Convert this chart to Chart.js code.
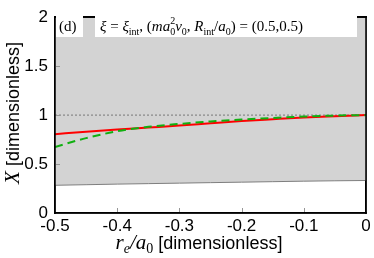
<!DOCTYPE html>
<html>
<head>
<meta charset="utf-8">
<script src="https://cdn.jsdelivr.net/npm/chart.js@4.4.0/dist/chart.umd.min.js"></script>
<style>
  html, body { margin: 0; padding: 0; background: #fff; }
  #wrap { width: 374px; height: 258px; }
</style>
</head>
<body>
<div id="wrap"><canvas id="c" width="374" height="258"></canvas></div>
<script>
// r_e / a_0 sample points
var reVals = [-0.5, -0.45, -0.4, -0.35, -0.3, -0.25, -0.2, -0.15, -0.1, -0.05, 0];
// red solid curve
var redVals = [0.805, 0.83, 0.853, 0.873, 0.893, 0.917, 0.94, 0.958, 0.975, 0.988, 1.0];
// green dashed curve
var greenVals = [0.675, 0.765, 0.835, 0.88, 0.91, 0.935, 0.955, 0.97, 0.985, 0.995, 1.0];
// lower edge of the grey band (band goes up to the top of the frame)
var bandLow = [0.283, 0.289, 0.295, 0.3, 0.305, 0.31, 0.315, 0.32, 0.325, 0.329, 0.332];
var refLine = [1, 1];
var xTicks = [-0.5, -0.4, -0.3, -0.2, -0.1, 0];
var yTicks = [0, 0.5, 1, 1.5, 2];

function pts(xs, ys) {
    return xs.map(function(x, i) { return {x: x, y: ys[i]}; });
}

var SANS = '"Liberation Sans", Arial, sans-serif';
var SERIF = '"Liberation Serif", "Times New Roman", serif';

// grid must stay "on" so the scale computes where its border goes; lines themselves are invisible
var hiddenGrid = { display: true, drawOnChartArea: false, drawTicks: false, color: 'rgba(0,0,0,0)' };
var blackBorder = { display: true, color: '#000', width: 1.5 };

// draws a list of text runs one after the other
function drawRuns(ctx, runs, x, y) {
    runs.forEach(function(r) {
        ctx.font = r.f;
        ctx.fillText(r.t, x, y + (r.dy || 0));
        x += ctx.measureText(r.t).width;
    });
    return x;
}
function runsWidth(ctx, runs) {
    var w = 0;
    runs.forEach(function(r) { ctx.font = r.f; w += ctx.measureText(r.t).width; });
    return w;
}

// frame-only axis for the top / right edges of the box
function edgeAxis(pos, min, max) {
    return {
        type: 'linear', position: pos, min: min, max: max,
        grid: hiddenGrid,
        ticks: { display: false },
        border: blackBorder,
        afterFit: function(s) { if (pos === 'top') s.height = 0; else s.width = 0; }
    };
}

var extras = {
    id: 'extras',
    afterDatasetsDraw: function(chart) {
        // box round the plot, drawn again here in case the scale borders are skipped
        var ctx = chart.ctx;
        var xs = chart.scales.x, ys = chart.scales.y;
        var L = xs.getPixelForValue(-0.5), R = xs.getPixelForValue(0);
        var T = ys.getPixelForValue(2), B = ys.getPixelForValue(0);
        ctx.save();
        ctx.setLineDash([]);
        ctx.globalAlpha = 1;
        ctx.fillStyle = '#000';
        ctx.fillRect(L - 0.75, T - 0.75, R - L + 1.5, 1.5);
        ctx.fillRect(L - 0.75, B - 0.75, R - L + 1.5, 1.5);
        ctx.fillRect(L - 0.75, T - 0.75, 1.5, B - T + 1.5);
        ctx.fillRect(R - 0.75, T - 0.75, 1.5, B - T + 1.5);
        // inward ticks
        ctx.fillStyle = 'rgb(150,150,150)';
        xTicks.forEach(function(v) {
            var p = Math.round(xs.getPixelForValue(v));
            if (p > L + 2 && p < R - 2) ctx.fillRect(p, B - 5, 1, 4);
        });
        yTicks.forEach(function(v) {
            var p = Math.round(ys.getPixelForValue(v));
            if (p > T + 2 && p < B - 2) ctx.fillRect(L + 1, p, 4, 1);
        });
        ctx.restore();
    },
    afterDraw: function(chart) {
        var ctx = chart.ctx;
        ctx.save();

        // annotation boxes
        var f = '15px ' + SERIF, fi = 'italic 15px ' + SERIF, fs = '10px ' + SERIF;
        ctx.fillStyle = '#fff';
        ctx.fillRect(56, 14, 27, 23);
        ctx.fillRect(95, 14, 262, 23);
        ctx.fillStyle = '#000';
        ctx.textBaseline = 'alphabetic';
        ctx.textAlign = 'left';
        drawRuns(ctx, [{t: '(d)', f: f}], 59, 31);
        var runs = [
            {t: 'ξ', f: fi}, {t: ' = ', f: f}, {t: 'ξ', f: fi}, {t: 'int', f: fs, dy: 4},
            {t: ', (', f: f}, {t: 'ma', f: fi}
        ];
        var x = drawRuns(ctx, runs, 100, 31);
        ctx.font = fs;
        ctx.fillText('2', x, 24);
        ctx.fillText('0', x, 35);
        x += ctx.measureText('0').width;
        drawRuns(ctx, [{t: 'ν', f: fi}, {t: '0', f: fs, dy: 4}, {t: ', ', f: f}, {t: 'R', f: fi},
            {t: 'int', f: fs, dy: 4}, {t: '/', f: f}, {t: 'a', f: fi}, {t: '0', f: fs, dy: 4},
            {t: ') = (0.5,0.5)', f: f}], x, 31);

        // x axis title
        var xr = [
            {t: 'r', f: 'italic 21px ' + SERIF}, {t: 'e', f: 'italic 14px ' + SERIF, dy: 4},
            {t: '/', f: 'italic 21px ' + SERIF}, {t: 'a', f: 'italic 21px ' + SERIF},
            {t: '0', f: '14px ' + SERIF, dy: 4}, {t: ' [dimensionless]', f: '18px ' + SANS}
        ];
        var w = runsWidth(ctx, xr);
        drawRuns(ctx, xr, 199 - w / 2, 249);

        // y axis title
        var yr = [{t: 'X', f: 'italic 21px ' + SERIF}, {t: ' [dimensionless]', f: '18px ' + SANS}];
        w = runsWidth(ctx, yr);
        ctx.translate(19, 113);
        ctx.rotate(-Math.PI / 2);
        drawRuns(ctx, yr, -w / 2, 0);
        ctx.restore();
    }
};

new Chart(document.getElementById('c'), {
    type: 'line',
    data: {
        datasets: [
            {
                data: pts(reVals, bandLow),
                order: 4,
                borderColor: '#7f7f7f',
                borderWidth: 1,
                backgroundColor: '#d3d3d3',
                fill: 'end',
                pointRadius: 0
            },
            {
                data: pts([-0.5, 0], refLine),
                order: 3,
                borderColor: '#777777',
                borderWidth: 1,
                borderDash: [2, 2],
                fill: false,
                pointRadius: 0
            },
            {
                data: pts(reVals, greenVals),
                order: 1,
                borderColor: '#10b010',
                borderWidth: 2,
                borderDash: [8, 5],
                fill: false,
                cubicInterpolationMode: 'monotone',
                pointRadius: 0
            },
            {
                data: pts(reVals, redVals),
                order: 2,
                borderColor: '#ff0000',
                borderWidth: 2,
                fill: false,
                cubicInterpolationMode: 'monotone',
                pointRadius: 0
            }
        ]
    },
    options: {
        responsive: false,
        animation: false,
        layout: { padding: { left: 0, right: 8, top: 10, bottom: 0 } },
        plugins: { legend: { display: false }, tooltip: { enabled: false } },
        scales: {
            x: {
                type: 'linear',
                min: -0.5, max: 0,
                afterBuildTicks: function(s) { s.ticks = xTicks.map(function(v) { return {value: v}; }); },
                afterFit: function(s) { s.height = 45; },
                grid: hiddenGrid,
                border: blackBorder,
                ticks: {
                    padding: 3,
                    color: '#000',
                    font: { family: SANS, size: 17 },
                    maxRotation: 0,
                    callback: function(v) { return v === 0 ? '0' : String(+v.toFixed(1)); }
                }
            },
            y: {
                min: 0, max: 2,
                afterBuildTicks: function(s) { s.ticks = yTicks.map(function(v) { return {value: v}; }); },
                afterFit: function(s) { s.width = 55; },
                grid: hiddenGrid,
                border: blackBorder,
                ticks: {
                    padding: 7,
                    color: '#000',
                    font: { family: SANS, size: 17 },
                    callback: function(v) { return String(v); }
                }
            },
            xTop: edgeAxis('top', -0.5, 0),
            yRight: edgeAxis('right', 0, 2)
        }
    },
    plugins: [extras]
});
</script>
</body>
</html>
